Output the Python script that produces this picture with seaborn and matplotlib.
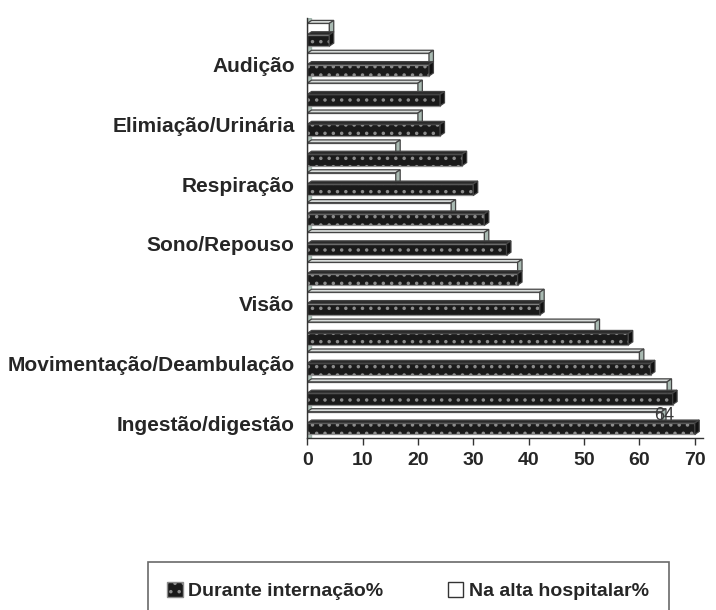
import matplotlib
matplotlib.use("Agg")
import matplotlib.pyplot as plt
from matplotlib.patches import Polygon, Patch
import seaborn as sns
import pandas as pd

# categories from top to bottom; only every other one is labelled in the chart
categories = ["c14", "Audição", "c12", "Elimiação/Urinária", "c10", "Respiração", "c8",
              "Sono/Repouso", "c6", "Visão", "c4", "Movimentação/Deambulação", "c2",
              "Ingestão/digestão"]
tick_labels = ["", "Audição", "", "Elimiação/Urinária", "", "Respiração", "",
               "Sono/Repouso", "", "Visão", "", "Movimentação/Deambulação", "",
               "Ingestão/digestão"]
durante = [4, 22, 24, 24, 28, 30, 32, 36, 38, 42, 58, 62, 66, 70]
na_alta = [4, 22, 20, 20, 16, 16, 26, 32, 38, 42, 52, 60, 65, 64]
series_names = ["Durante internação%", "Na alta hospitalar%"]
x_ticks = [0, 10, 20, 30, 40, 50, 60, 70]

sns.set_theme(style="white")
plt.rcParams['font.family'] = ['Liberation Sans', 'DejaVu Sans']
plt.rcParams['hatch.linewidth'] = 1.3

df = pd.DataFrame({
    "cat": categories * 2,
    "val": na_alta + durante,
    "serie": [series_names[1]] * len(categories) + [series_names[0]] * len(categories),
})

fig = plt.figure(figsize=(7.16, 6.10), dpi=100)
ax = fig.add_axes([0.429, 0.282, 0.553, 0.688])

sns.barplot(data=df, y="cat", x="val", hue="serie",
            hue_order=[series_names[1], series_names[0]], order=categories,
            orient="h", width=0.76, gap=0.0, ax=ax, legend=False, errorbar=None)

dx, dy = 0.8, -0.1
white_bars = ax.patches[:len(categories)]
dark_bars = ax.patches[len(categories):len(categories) * 2]
for p in white_bars:
    p.set_facecolor("white"); p.set_edgecolor("#555555"); p.set_linewidth(0.9)
for p in dark_bars:
    p.set_facecolor("#1a1a1a"); p.set_edgecolor("#8c8c8c"); p.set_linewidth(0.9)
    p.set_hatch("..")

def add_depth(p, top_c, side_c, ec):
    x0 = p.get_x(); w = p.get_width(); y0 = p.get_y(); h = p.get_height()
    x1 = x0 + w
    ytop, ybot = min(y0, y0 + h), max(y0, y0 + h)
    top = Polygon([(x0, ytop), (x0 + dx, ytop + dy), (x1 + dx, ytop + dy), (x1, ytop)],
                  closed=True, facecolor=top_c, edgecolor=ec, linewidth=0.9, zorder=p.get_zorder())
    side = Polygon([(x1, ytop), (x1 + dx, ytop + dy), (x1 + dx, ybot + dy), (x1, ybot)],
                   closed=True, facecolor=side_c, edgecolor=ec, linewidth=0.9, zorder=p.get_zorder())
    ax.add_patch(top); ax.add_patch(side)

for p in white_bars:
    add_depth(p, "#d8dcda", "#a9bab2", "#444444")
for p in dark_bars:
    add_depth(p, "#2a2a2a", "#111111", "#444444")

# data label on the bottom white bar
ib = white_bars[-1]
ax.text(ib.get_width() + 0.5, ib.get_y() + ib.get_height() * 1.05, str(na_alta[-1]),
        ha="center", va="bottom", fontsize=13, color="#3a3a3a", zorder=10)

# back wall strip
ax.axvspan(-0.1, dx * 0.8, color="#7f9a8e", alpha=0.6, zorder=0.5)

n = len(categories)
ax.set_ylim(n - 0.5, -0.55)
ax.set_xlim(0, 71.5)
ax.set_xticks(x_ticks)
ax.set_xticklabels([str(t) for t in x_ticks], fontsize=14, fontweight="bold")
ax.set_yticks(range(n))
ax.set_yticklabels(tick_labels, fontsize=15, fontweight="bold")
ax.tick_params(axis="y", length=0, pad=9)
ax.set_yticks([i - 0.5 for i in range(n + 1)], minor=True)
ax.tick_params(axis="y", which="minor", length=5, width=1, color="#333333")
ax.tick_params(axis="x", length=5, width=1, color="#333333", bottom=True, pad=5)
ax.set_xlabel(""); ax.set_ylabel("")
for s in ["top", "right"]:
    ax.spines[s].set_visible(False)
for s in ["left", "bottom"]:
    ax.spines[s].set_color("#333333"); ax.spines[s].set_linewidth(1)

handles = [Patch(facecolor="#1a1a1a", edgecolor="#8c8c8c", hatch="..", label=series_names[0]),
           Patch(facecolor="white", edgecolor="#333333", label=series_names[1])]
leg = fig.legend(handles=handles, loc="upper center", bbox_to_anchor=(0.57, 0.078), ncol=2,
                 frameon=True, fancybox=False, edgecolor="#444444", handlelength=0.8,
                 handleheight=0.8, handletextpad=0.3, columnspacing=3.3, borderpad=1.0,
                 borderaxespad=0.0, prop={"weight": "bold", "size": 14})
leg.get_frame().set_linewidth(1.2)

fig.savefig("out.png", dpi=100)
